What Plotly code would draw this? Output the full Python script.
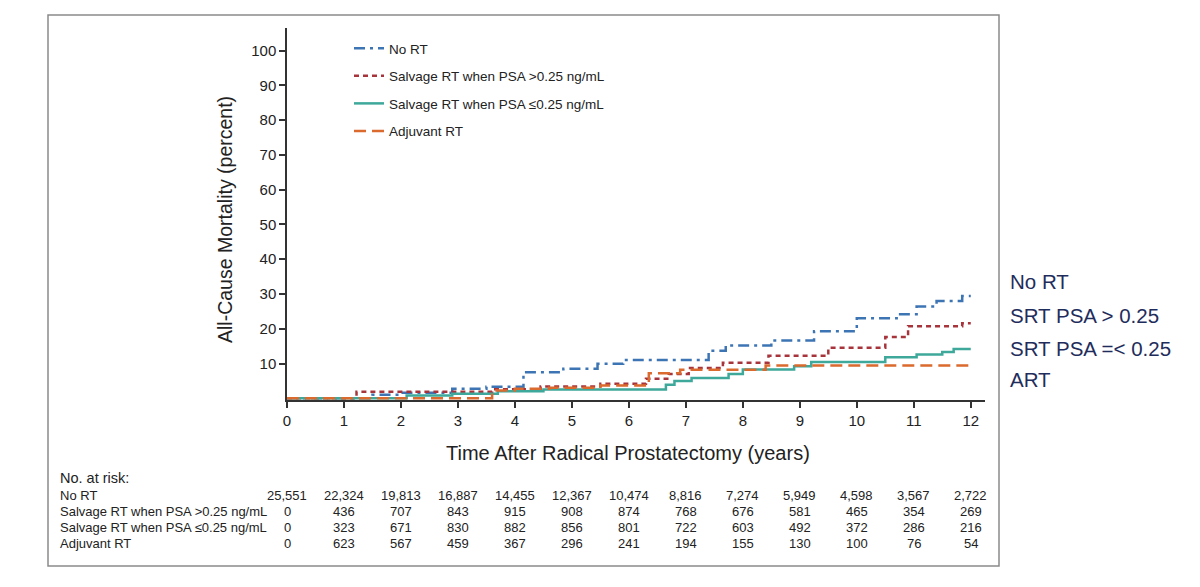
import plotly.graph_objects as go

# ---- data ----
no_rt_t = [0, 1.5, 2.0, 2.9, 3.5, 4.15, 4.85, 5.45, 5.9, 7.4, 7.7, 8.5, 9.25, 10.0, 10.7, 11.05, 11.4, 11.85, 12.0]
no_rt_y = [0, 1.0, 1.6, 2.7, 3.3, 7.5, 8.5, 9.9, 11.0, 13.7, 15.2, 16.6, 19.3, 23.0, 24.2, 26.4, 28.0, 29.4, 29.4]

srt_hi_t = [0, 1.22, 3.6, 4.45, 5.5, 6.3, 6.7, 7.05, 7.65, 8.45, 9.5, 10.5, 10.9, 11.85, 12.0]
srt_hi_y = [0, 1.9, 2.6, 3.4, 4.2, 5.6, 7.0, 8.7, 10.2, 12.2, 14.5, 17.6, 20.7, 21.6, 21.6]

srt_lo_t = [0, 2.1, 2.9, 3.7, 4.5, 6.65, 6.8, 7.1, 7.75, 8.0, 8.9, 9.2, 10.5, 11.05, 11.5, 11.7, 12.0]
srt_lo_y = [0, 0.8, 1.3, 2.0, 2.5, 3.9, 5.0, 5.8, 7.0, 8.3, 9.2, 10.4, 11.8, 12.6, 13.3, 14.2, 14.2]

adj_t = [0, 3.6, 4.0, 4.6, 5.5, 6.35, 6.9, 8.4, 12.0]
adj_y = [0, 2.2, 2.7, 3.0, 3.7, 7.2, 8.2, 9.4, 9.4]

series_names = ["No RT", "Salvage RT when PSA >0.25 ng/mL", "Salvage RT when PSA \u22640.25 ng/mL", "Adjuvant RT"]
right_labels = ["No RT", "SRT PSA > 0.25", "SRT PSA =< 0.25", "ART"]

risk_years = list(range(13))
risk_no_rt = [25551, 22324, 19813, 16887, 14455, 12367, 10474, 8816, 7274, 5949, 4598, 3567, 2722]
risk_srt_hi = [0, 436, 707, 843, 915, 908, 874, 768, 676, 581, 465, 354, 269]
risk_srt_lo = [0, 323, 671, 830, 882, 856, 801, 722, 603, 492, 372, 286, 216]
risk_adj = [0, 623, 567, 459, 367, 296, 241, 194, 155, 130, 100, 76, 54]

x_ticks = list(range(13))
y_ticks = list(range(10, 101, 10))

# ---- styles ----
colors = ["#3D75B4", "#A8343B", "#3EA89B", "#DA6A2E"]
dashes = ["11px,5px,3px,5px", "5px,4px", "solid", "12px,6px"]
FONT = "Liberation Sans, Arial, Helvetica, sans-serif"
TXT = "#222222"

W, H = 1200, 587
L, R, T, B = 287, 215, 28, 187
PW, PH = W - L - R, H - T - B

def px_x(px):
    return (px - L) / PW

def px_y(py):
    return (H - B - py) / PH

fig = go.Figure()
for name, t, y, c, d in zip(series_names,
                            [no_rt_t, srt_hi_t, srt_lo_t, adj_t],
                            [no_rt_y, srt_hi_y, srt_lo_y, adj_y],
                            colors, dashes):
    fig.add_trace(go.Scatter(x=t, y=y, mode="lines", name=name, legendgroup=name,
                             line=dict(color=c, width=2.5, dash=d, shape="hv")))

def ann(text, x, y, size, xanchor="center", xref="paper", color=TXT, angle=0):
    return dict(text=text, xref=xref, yref="paper", x=x, y=y, xanchor=xanchor, yanchor="middle",
                showarrow=False, textangle=angle, font=dict(size=size, color=color, family=FONT))

annotations = []
# axis titles
annotations.append(ann("All-Cause Mortality (percent)", px_x(225), px_y(220), 19.5, angle=-90))
annotations.append(ann("Time After Radical Prostatectomy (years)", px_x(628), px_y(453), 20))
# risk table
annotations.append(ann("No. at risk:", px_x(58), px_y(478), 14.5, xanchor="left"))
row_y = [495, 511, 527, 543]
for lab, vals, py in zip(series_names, [risk_no_rt, risk_srt_hi, risk_srt_lo, risk_adj], row_y):
    annotations.append(ann(lab, px_x(58), px_y(py), 13, xanchor="left"))
    for yr, v in zip(risk_years, vals):
        annotations.append(ann(f"{v:,}", yr, px_y(py), 13, xanchor="center", xref="x"))
# right-side labels
for lab, py in zip(right_labels, [281, 315, 348, 379]):
    annotations.append(ann(lab, px_x(1008), px_y(py), 20.5, xanchor="left", color="#1F2D5C"))

shapes = [dict(type="rect", xref="paper", yref="paper",
               x0=px_x(48), x1=px_x(999), y0=px_y(566), y1=px_y(15),
               line=dict(color="#8A8A8A", width=1.5), fillcolor="rgba(0,0,0,0)", layer="below")]

fig.update_layout(
    width=W, height=H,
    margin=dict(l=L, r=R, t=T, b=B, pad=0),
    paper_bgcolor="white", plot_bgcolor="white",
    font=dict(family=FONT, color=TXT),
    showlegend=True,
    legend=dict(x=px_x(349), y=px_y(33), xanchor="left", yanchor="top",
                bgcolor="rgba(0,0,0,0)", font=dict(size=13.5, color=TXT, family=FONT),
                tracegroupgap=7, itemwidth=30),
    annotations=annotations,
    shapes=shapes,
    xaxis=dict(range=[0, 12.25], tickvals=x_ticks, ticktext=[str(v) for v in x_ticks],
               showgrid=False, zeroline=False, showline=True, linecolor="#333333", linewidth=1.5,
               ticks="outside", ticklen=6, tickwidth=1.5, tickcolor="#333333",
               tickfont=dict(size=15, color=TXT, family=FONT)),
    yaxis=dict(range=[-0.5, 106.5], tickvals=y_ticks, ticktext=[str(v) for v in y_ticks],
               showgrid=False, zeroline=False, showline=True, linecolor="#333333", linewidth=1.5,
               ticks="outside", ticklen=6, tickwidth=1.5, tickcolor="#333333",
               tickfont=dict(size=15, color=TXT, family=FONT)),
)

fig.write_html("out.html")
